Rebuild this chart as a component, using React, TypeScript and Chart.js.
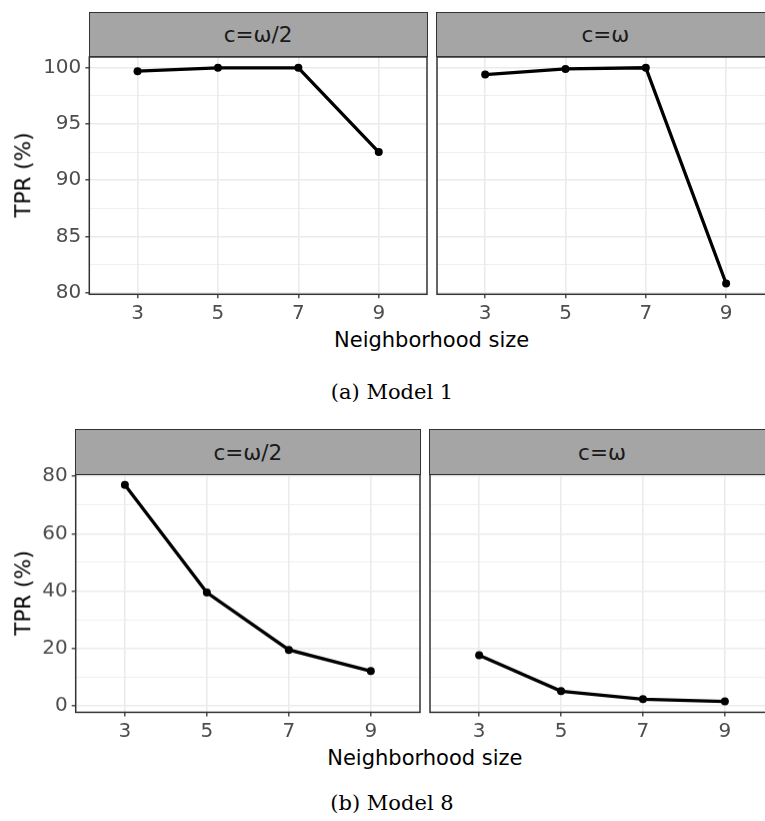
import React, { useEffect, useRef } from "react";
import { Chart, registerables } from "chart.js";

Chart.register(...registerables);

// ---------- data ----------
const neighborhoodSizes = [3, 5, 7, 9];
const facetLabels = ["c=ω/2", "c=ω"];
const model1HalfOmega = [99.7, 100.0, 100.0, 92.5];
const model1Omega = [99.4, 99.9, 100.0, 80.8];
const model8HalfOmega = [77.0, 39.5, 19.5, 12.1];
const model8Omega = [17.6, 5.1, 2.3, 1.5];
const model1YTicks = [80, 85, 90, 95, 100];
const model8YTicks = [0, 20, 40, 60, 80];
const yAxisTitle = "TPR (%)";
const xAxisTitle = "Neighborhood size";
const captions = ["(a) Model 1", "(b) Model 8"];

// ---------- style ----------
const SANS = "'DejaVu Sans', sans-serif";
const SERIF = "'DejaVu Serif', serif";
const TICK_COLOR = "#4D4D4D";
const AXIS_DARK = "#333333";
const GRID = "#EBEBEB";
const STRIP_FILL = "#A5A5A5";
const TICK_FONT_SIZE = 20;

function continuousRange(a: number[], b: number[]): [number, number] {
  const all = a.concat(b);
  const lo = Math.min(...all);
  const hi = Math.max(...all);
  const span = hi - lo;
  return [lo - 0.05 * span, hi + 0.05 * span];
}

function discreteRange(xs: number[]): [number, number] {
  const step = xs[1] - xs[0];
  return [xs[0] - 0.6 * step, xs[xs.length - 1] + 0.6 * step];
}

function withMinor(majors: number[]): number[] {
  const out: number[] = [];
  for (let i = 0; i < majors.length; i++) {
    out.push(majors[i]);
    if (i < majors.length - 1) out.push((majors[i] + majors[i + 1]) / 2);
  }
  return out;
}

const borderPlugin = {
  id: "panelBorder",
  afterDraw(chart: any) {
    const { ctx, chartArea: a } = chart;
    ctx.save();
    ctx.strokeStyle = AXIS_DARK;
    ctx.lineWidth = 1.5;
    ctx.strokeRect(a.left, a.top, a.right - a.left, a.bottom - a.top);
    ctx.restore();
  },
};

type PanelProps = {
  values: number[];
  yRange: [number, number];
  yMajors: number[];
  showY: boolean;
  plotLeft: number;
  plotRight: number;
  plotTop: number;
  plotBottom: number;
};

const PAD_TOP = 20;
const PAD_SIDE = 10;
const X_AXIS_H = 32;

function Panel(props: PanelProps) {
  const { values, yRange, yMajors, showY, plotLeft, plotRight, plotTop, plotBottom } = props;
  const ref = useRef<HTMLCanvasElement | null>(null);

  const boxLeft = showY ? 0 : plotLeft - PAD_SIDE;
  const boxTop = plotTop - PAD_TOP;
  const boxWidth = plotRight + PAD_SIDE - boxLeft;
  const boxHeight = plotBottom + X_AXIS_H - boxTop;
  const yAxisWidth = showY ? plotLeft : 0;

  useEffect(() => {
    if (!ref.current) return;
    const xr = discreteRange(neighborhoodSizes);
    const yTicks = withMinor(yMajors);
    const isMajor = (v: number) => yMajors.some((m) => Math.abs(m - v) < 1e-9);
    const chart = new Chart(ref.current, {
      type: "line",
      data: {
        datasets: [
          {
            data: neighborhoodSizes.map((x, i) => ({ x, y: values[i] })),
            borderColor: "#000000",
            backgroundColor: "#000000",
            borderWidth: 3.3,
            pointRadius: 4,
            pointBorderWidth: 0,
            pointBackgroundColor: "#000000",
            tension: 0,
            fill: false,
          },
        ],
      },
      options: {
        animation: false,
        responsive: true,
        maintainAspectRatio: false,
        layout: {
          padding: {
            top: PAD_TOP,
            right: PAD_SIDE,
            bottom: 0,
            left: showY ? 0 : PAD_SIDE,
          },
        },
        plugins: {
          legend: { display: false },
          tooltip: { enabled: false },
          title: { display: false },
        },
        scales: {
          x: {
            type: "linear",
            min: xr[0],
            max: xr[1],
            afterBuildTicks: (axis: any) => {
              axis.ticks = neighborhoodSizes.map((v) => ({ value: v }));
            },
            afterFit: (axis: any) => {
              axis.height = X_AXIS_H;
            },
            border: { display: false },
            grid: {
              color: GRID,
              lineWidth: 1.6,
              drawTicks: true,
              tickLength: 4,
              tickColor: AXIS_DARK,
              tickWidth: 1.3,
            },
            ticks: {
              autoSkip: false,
              maxRotation: 0,
              padding: 3,
              color: TICK_COLOR,
              font: { family: SANS, size: TICK_FONT_SIZE },
              callback: (v: any) => String(v),
            },
          },
          y: {
            type: "linear",
            min: yRange[0],
            max: yRange[1],
            afterBuildTicks: (axis: any) => {
              axis.ticks = yTicks.map((v) => ({ value: v }));
            },
            afterFit: (axis: any) => {
              axis.width = yAxisWidth;
            },
            border: { display: false },
            grid: {
              color: GRID,
              lineWidth: (ctx: any) => (ctx.tick && isMajor(ctx.tick.value) ? 1.6 : 0.8),
              drawTicks: showY,
              tickLength: 4,
              tickColor: (ctx: any) =>
                ctx.tick && isMajor(ctx.tick.value) ? AXIS_DARK : "rgba(0,0,0,0)",
              tickWidth: 1.3,
            },
            ticks: {
              display: showY,
              autoSkip: false,
              padding: 4,
              color: TICK_COLOR,
              font: { family: SANS, size: TICK_FONT_SIZE },
              callback: (v: any) => (isMajor(Number(v)) ? String(v) : ""),
            },
          },
        },
      } as any,
      plugins: [borderPlugin],
    });
    return () => chart.destroy();
  }, []);

  return (
    <div
      style={{
        position: "absolute",
        left: boxLeft,
        top: boxTop,
        width: boxWidth,
        height: boxHeight,
      }}
    >
      <canvas ref={ref} />
    </div>
  );
}

function Strip(props: { label: string; left: number; right: number; bottom: number }) {
  const h = 45;
  return (
    <div
      style={{
        position: "absolute",
        left: props.left - 0.75,
        top: props.bottom - h,
        width: props.right - props.left + 1.5,
        height: h + 0.75,
        background: STRIP_FILL,
        border: `1.5px solid ${AXIS_DARK}`,
        boxSizing: "border-box",
        display: "flex",
        alignItems: "center",
        justifyContent: "center",
        fontFamily: SANS,
        fontSize: 21.5,
        color: "#1A1A1A",
      }}
    >
      {props.label}
    </div>
  );
}

function Text(props: {
  text: string;
  x: number;
  y: number;
  size: number;
  family: string;
  rotate?: boolean;
}) {
  return (
    <div
      style={{
        position: "absolute",
        left: props.x,
        top: props.y,
        transform: `translate(-50%, -50%)${props.rotate ? " rotate(-90deg)" : ""}`,
        whiteSpace: "nowrap",
        fontFamily: props.family,
        fontSize: props.size,
        color: "#000000",
        lineHeight: 1,
      }}
    >
      {props.text}
    </div>
  );
}

type Row = {
  left: number[];
  right: number[];
  majors: number[];
  top: number;
  bottom: number;
  lLeft: number;
  lRight: number;
  rLeft: number;
  rRight: number;
  titleY: number;
  captionY: number;
  caption: string;
};

function FacetRow({ row }: { row: Row }) {
  const yr = continuousRange(row.left, row.right);
  const mid = (row.top + row.bottom) / 2;
  const xMid = (row.lLeft + row.rRight) / 2;
  return (
    <>
      <Panel
        values={row.left}
        yRange={yr}
        yMajors={row.majors}
        showY={true}
        plotLeft={row.lLeft}
        plotRight={row.lRight}
        plotTop={row.top}
        plotBottom={row.bottom}
      />
      <Panel
        values={row.right}
        yRange={yr}
        yMajors={row.majors}
        showY={false}
        plotLeft={row.rLeft}
        plotRight={row.rRight}
        plotTop={row.top}
        plotBottom={row.bottom}
      />
      <Strip label={facetLabels[0]} left={row.lLeft} right={row.lRight} bottom={row.top} />
      <Strip label={facetLabels[1]} left={row.rLeft} right={row.rRight} bottom={row.top} />
      <Text text={yAxisTitle} x={23} y={mid} size={21.5} family={SANS} rotate />
      <Text text={xAxisTitle} x={xMid} y={row.titleY} size={21} family={SANS} />
      <Text text={row.caption} x={392} y={row.captionY} size={21} family={SERIF} />
    </>
  );
}

export default function App() {
  const rows: Row[] = [
    {
      left: model1HalfOmega,
      right: model1Omega,
      majors: model1YTicks,
      top: 56.7,
      bottom: 294,
      lLeft: 89.3,
      lRight: 427,
      rLeft: 436.7,
      rRight: 774,
      titleY: 340,
      captionY: 391.5,
      caption: captions[0],
    },
    {
      left: model8HalfOmega,
      right: model8Omega,
      majors: model8YTicks,
      top: 474.3,
      bottom: 711.7,
      lLeft: 75.7,
      lRight: 420,
      rLeft: 430,
      rRight: 774,
      titleY: 758.3,
      captionY: 803,
      caption: captions[1],
    },
  ];
  return (
    <div
      style={{
        position: "absolute",
        left: 0,
        top: 0,
        width: 765,
        height: 821,
        overflow: "hidden",
        background: "#ffffff",
      }}
    >
      {rows.map((r, i) => (
        <FacetRow key={i} row={r} />
      ))}
    </div>
  );
}
